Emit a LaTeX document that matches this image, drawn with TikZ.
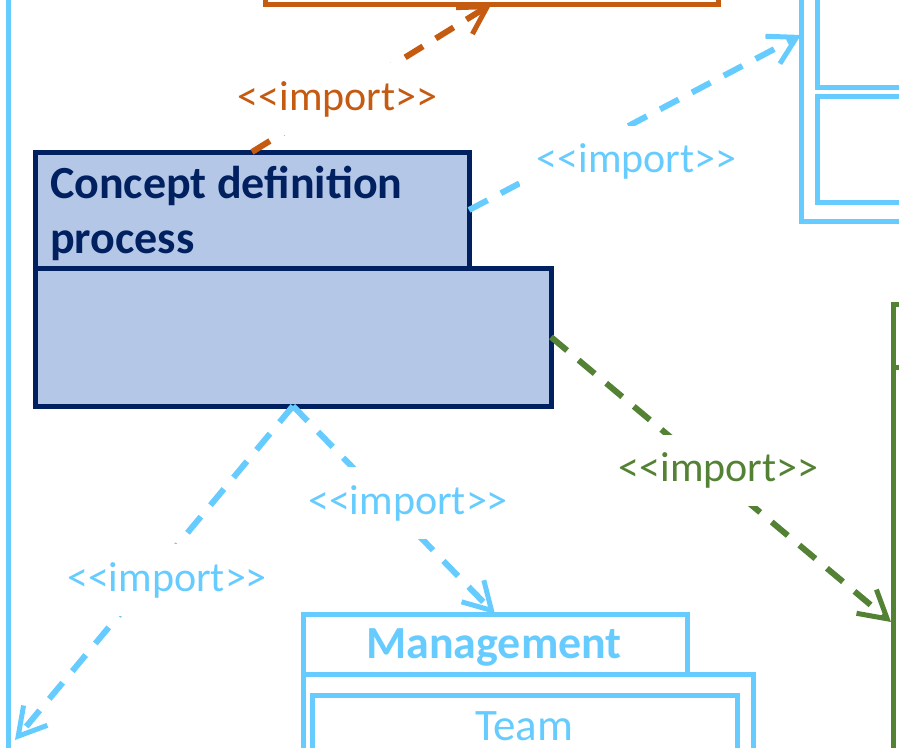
\documentclass[tikz,border=0pt]{standalone}
\usepackage{fontspec}
\newfontfamily\carl{Carlito}
\usetikzlibrary{arrows.meta}
\definecolor{lblue}{HTML}{66CCFF}
\definecolor{navy}{HTML}{002060}
\definecolor{cfill}{HTML}{B4C7E7}
\definecolor{orng}{HTML}{C55A11}
\definecolor{grn}{HTML}{548235}
\begin{document}
\begin{tikzpicture}[x=1pt,y=-1pt,
  box/.style={draw,line width=5pt,inner sep=0pt,outer sep=0pt},
  imp/.style={line width=6pt,dash pattern=on 21pt off 15pt,
    -{Straight Barb[length=27pt,width=31pt,line width=5pt]}},
  lbl/.style={fill=white,inner xsep=17pt,inner ysep=18pt,
    font=\carl\fontsize{42}{50}\selectfont},
  ttl/.style={font=\carl\bfseries\fontsize{46}{55}\selectfont}
]
\useasboundingbox (0,0) rectangle (899,747);
\clip (0,0) rectangle (899,747);

% left outer light-blue border
\draw[lblue,line width=5pt] (8,-20) -- (8,770);

% orange package (top)
\node[box,draw=orng,minimum width=453pt,minimum height=80pt] (orangepkg) at (491.5,-36) {};

% top-right light-blue package
\node[box,draw=lblue,minimum width=160pt,minimum height=290pt] (trpkg) at (881,76) {};
\node[box,draw=lblue,minimum width=140pt,minimum height=150pt] (trin1) at (887,12) {};
\node[box,draw=lblue,minimum width=140pt,minimum height=106pt] (trin2) at (887,149) {};

% green package (right)
\node[box,draw=grn,minimum width=60pt,minimum height=63pt] (gtab) at (923,335.5) {};
\node[box,draw=grn,minimum width=60pt,minimum height=420pt] (gbody) at (923,577) {};

% concept definition process package
\node[box,draw=navy,fill=cfill,minimum width=434pt,minimum height=116pt] (ctab) at (252,210) {};
\node[box,draw=navy,fill=cfill,minimum width=516pt,minimum height=138pt] (cbody) at (293,337) {};
\node[ttl,text=navy,align=left,anchor=north west,inner sep=0pt] (ctitle) at (50,166) {Concept definition\\process};

% management package
\node[box,draw=lblue,minimum width=384pt,minimum height=60pt] (mtab) at (495,644) {};
\node[box,draw=lblue,minimum width=450pt,minimum height=120pt] (mbody) at (528,734) {};
\node[box,draw=lblue,minimum width=425pt,minimum height=110pt] (minner) at (524.5,750) {};
\node[ttl,text=lblue] (mtitle) at (494,647) {Management};
\node[font=\carl\fontsize{45}{55}\selectfont,text=lblue,inner sep=0pt] (team) at (524,726) {Team};

% arrow end points
\coordinate (trtip) at (801,35);
\coordinate (gtip) at (891,622);
\coordinate (lltip) at (15,740);

% connectors
\draw[imp,orng] (ctab.north) -- (orangepkg.south);
\draw[imp,lblue] (ctab.east) -- (trtip);
\draw[imp,grn] (cbody.east) -- (gtip);
\draw[imp,lblue] (cbody.south) -- (mtab.north);
\draw[imp,lblue] (cbody.south) -- (lltip);

% labels
\node[lbl,text=orng] (l1) at (337.5,99) {<<import>>};
\node[lbl,text=lblue] (l2) at (636.5,161.5) {<<import>>};
\node[lbl,text=grn] (l3) at (718.5,470.5) {<<import>>};
\node[lbl,text=lblue] (l4) at (408,503) {<<import>>};
\node[lbl,text=lblue] (l5) at (167,580) {<<import>>};
\end{tikzpicture}
\end{document}
